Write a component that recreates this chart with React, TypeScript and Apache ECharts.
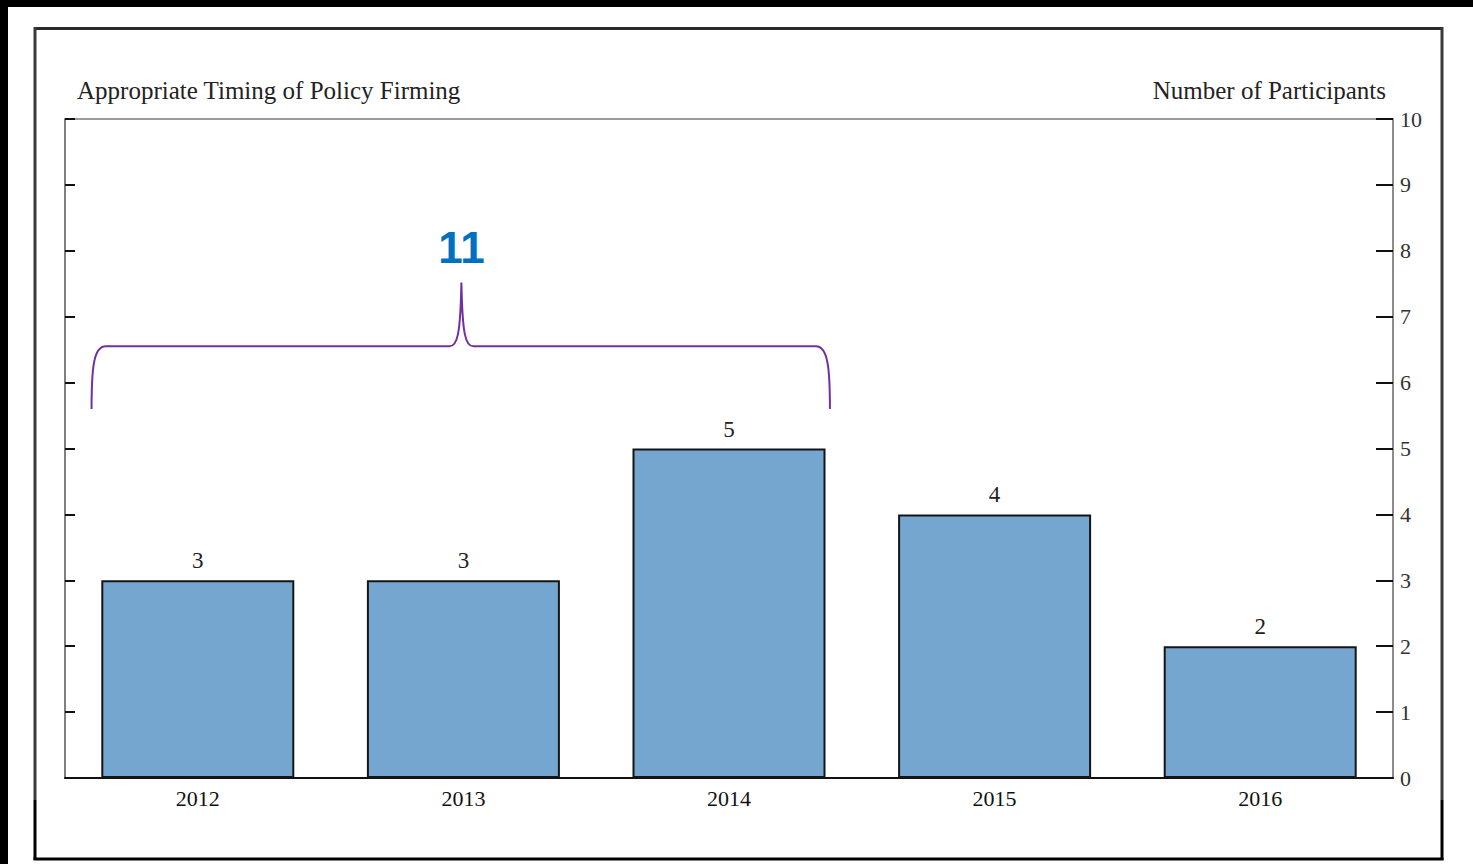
import React, { useEffect, useRef } from "react";
import * as echarts from "echarts";

const years = ["2012", "2013", "2014", "2015", "2016"];
const participants = [3, 3, 5, 4, 2];
const yTicks = { min: 0, max: 10, interval: 1 };
const bracedGroup = [0, 1, 2]; // 2012–2014
const leftTitle = "Appropriate Timing of Policy Firming";
const rightTitle = "Number of Participants";

const SERIF = "'Liberation Serif', 'DejaVu Serif', serif";

export default function App() {
  const ref = useRef<HTMLDivElement>(null);

  useEffect(() => {
    if (!ref.current) return;
    const chart = echarts.init(ref.current, undefined, { renderer: "svg" });
    const braceTotal = bracedGroup.reduce((s, i) => s + participants[i], 0);

    chart.setOption({
      animation: false,
      backgroundColor: "#ffffff",
      grid: {
        left: 65,
        right: 80,
        top: 119,
        bottom: 86,
        show: true,
        borderColor: "#7a7a7a",
        borderWidth: 1.5,
      },
      xAxis: {
        type: "category",
        data: years,
        axisLine: { lineStyle: { color: "#111", width: 2 } },
        axisTick: { show: false },
        axisLabel: { margin: 9, fontSize: 22, fontFamily: SERIF, color: "#111" },
      },
      yAxis: [
        {
          type: "value",
          position: "right",
          min: yTicks.min,
          max: yTicks.max,
          interval: yTicks.interval,
          splitLine: { show: false },
          axisLine: { show: true, lineStyle: { color: "#888", width: 1.5 } },
          axisTick: { show: true, inside: true, length: 17, lineStyle: { color: "#111", width: 2 } },
          axisLabel: { margin: 7, fontSize: 22, fontFamily: SERIF, color: "#333" },
        },
        {
          type: "value",
          position: "left",
          min: yTicks.min,
          max: yTicks.max,
          interval: yTicks.interval,
          splitLine: { show: false },
          axisLine: { show: true, lineStyle: { color: "#777", width: 1.5 } },
          axisTick: { show: true, inside: true, length: 10, lineStyle: { color: "#111", width: 2 } },
          axisLabel: { show: false },
        },
      ],
      series: [
        {
          type: "bar",
          data: participants,
          barWidth: 193,
          itemStyle: { color: "#75A6D0", borderColor: "#151515", borderWidth: 2 },
          label: {
            show: true,
            position: "top",
            distance: 8,
            fontSize: 23,
            fontFamily: SERIF,
            color: "#222",
          },
        },
        {
          type: "custom",
          silent: true,
          data: [[bracedGroup[0], braceTotal]],
          renderItem: (params: any, api: any) => {
            const band = api.size([1, 0])[0];
            const first = api.coord([bracedGroup[0], 0])[0];
            const last = api.coord([bracedGroup[bracedGroup.length - 1], 0])[0];
            const mid = (first + last) / 2 - 2;
            const L = first - band * 0.4;
            const R = last + band * 0.38;
            const yb = api.coord([0, 5.6])[1];
            const yh = api.coord([0, 6.55])[1];
            const yp = api.coord([0, 7.52])[1];
            const yt = api.coord([0, 8.05])[1];
            const d =
              `M${L},${yb} C${L},${yh + 22} ${L + 2},${yh} ${L + 14},${yh} ` +
              `L${mid - 12},${yh} C${mid - 4},${yh} ${mid - 1},${yh - 12} ${mid},${yp} ` +
              `C${mid + 1},${yh - 12} ${mid + 4},${yh} ${mid + 12},${yh} ` +
              `L${R - 14},${yh} C${R - 2},${yh} ${R},${yh + 22} ${R},${yb}`;
            return {
              type: "group",
              children: [
                {
                  type: "path",
                  shape: { pathData: d },
                  style: { stroke: "#7030A0", fill: "none", lineWidth: 2 },
                },
                {
                  type: "text",
                  style: {
                    text: String(braceTotal),
                    x: mid,
                    y: yt,
                    align: "center",
                    verticalAlign: "middle",
                    fontSize: 44,
                    fontWeight: "bold",
                    fontFamily: "'Liberation Sans', Arial, sans-serif",
                    fill: "#0070C0",
                  },
                },
              ],
            };
          },
        },
      ],
      graphic: [
        { type: "rect", shape: { x: 0, y: 0, width: 1473, height: 7 }, style: { fill: "#000" } },
        { type: "rect", shape: { x: 0, y: 0, width: 8, height: 864 }, style: { fill: "#000" } },
        { type: "line", shape: { x1: 34, y1: 28.5, x2: 1443, y2: 28.5 }, style: { stroke: "#2a2a2a", lineWidth: 3 } },
        { type: "line", shape: { x1: 35, y1: 27, x2: 35, y2: 800 }, style: { stroke: "#3a3a3a", lineWidth: 3 } },
        { type: "line", shape: { x1: 1442, y1: 27, x2: 1442, y2: 800 }, style: { stroke: "#3a3a3a", lineWidth: 3 } },
        { type: "line", shape: { x1: 35, y1: 800, x2: 35, y2: 860 }, style: { stroke: "#000", lineWidth: 3 } },
        { type: "line", shape: { x1: 1442, y1: 800, x2: 1442, y2: 860 }, style: { stroke: "#000", lineWidth: 3 } },
        { type: "line", shape: { x1: 33.5, y1: 859, x2: 1443.5, y2: 859 }, style: { stroke: "#000", lineWidth: 3 } },
        {
          type: "text",
          x: 77,
          y: 90,
          style: {
            text: leftTitle,
            fontSize: 25,
            fontFamily: SERIF,
            fill: "#222",
            verticalAlign: "middle",
            align: "left",
          },
        },
        {
          type: "text",
          x: 1386,
          y: 90,
          style: {
            text: rightTitle,
            fontSize: 25,
            fontFamily: SERIF,
            fill: "#222",
            verticalAlign: "middle",
            align: "right",
          },
        },
      ],
    });

    return () => chart.dispose();
  }, []);

  return (
    <div
      ref={ref}
      style={{ position: "absolute", left: 0, top: 0, width: 1473, height: 864 }}
    />
  );
}
